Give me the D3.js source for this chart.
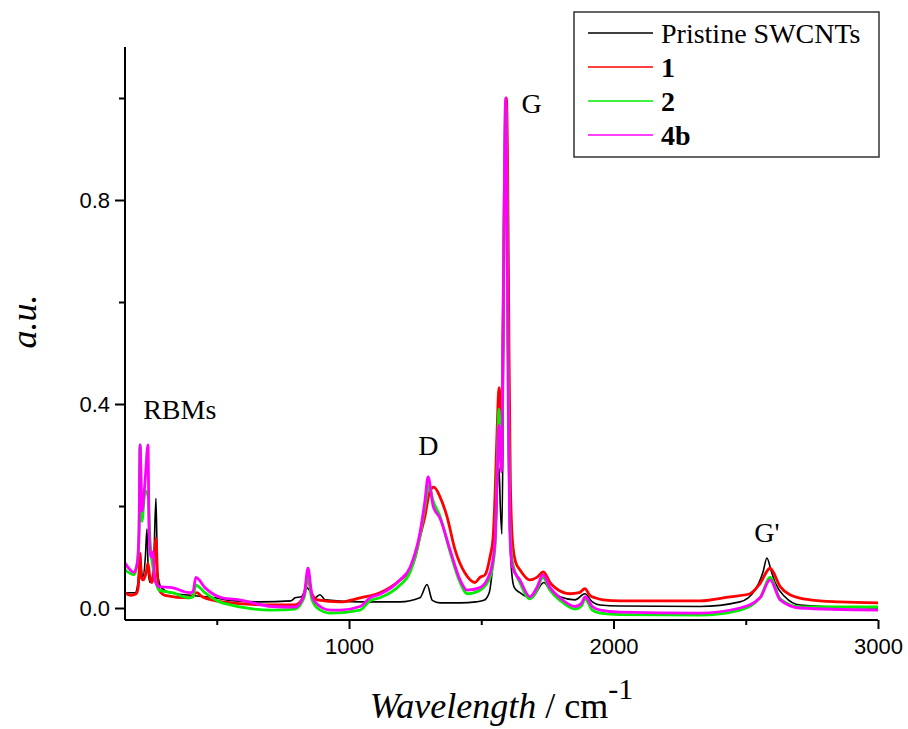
<!DOCTYPE html>
<html>
<head>
<meta charset="utf-8">
<script src="https://cdn.jsdelivr.net/npm/d3@7"></script>
<style>
  body { margin: 0; background: #fff; }
  svg { display: block; }
  .serif { font-family: "Liberation Serif", "Times New Roman", serif; }
  .tick text { font-family: "Liberation Sans", Arial, sans-serif; font-size: 22px; fill: #000; }
</style>
</head>
<body>
<svg id="chart" width="908" height="729"></svg>
<script>
// Raman spectra: [wavenumber (cm-1), normalised intensity]
const pristine = [[153,0.03],[191,0.03],[202,0.05],[210,0.09],[220,0.06],[230,0.1],[236,0.155],[241,0.07],[248,0.05],[260,0.07],[270,0.215],[276,0.07],[290,0.04],[323,0.03],[399,0.025],[493,0.02],[550,0.015],[663,0.012],[780,0.014],[796,0.02],[820,0.022],[840,0.04],[850,0.035],[870,0.02],[890,0.026],[910,0.016],[1042,0.012],[1193,0.012],[1268,0.02],[1295,0.046],[1315,0.015],[1344,0.01],[1420,0.01],[1480,0.012],[1510,0.015],[1530,0.03],[1545,0.09],[1555,0.15],[1562,0.25],[1567,0.276],[1572,0.2],[1578,0.145],[1583,0.4],[1587,0.75],[1592,1.0],[1597,0.75],[1602,0.35],[1608,0.15],[1615,0.07],[1625,0.04],[1646,0.03],[1690,0.02],[1737,0.05],[1760,0.035],[1798,0.022],[1854,0.016],[1892,0.028],[1920,0.012],[1949,0.006],[2025,0.004],[2327,0.003],[2478,0.012],[2535,0.035],[2565,0.07],[2580,0.098],[2595,0.075],[2611,0.05],[2648,0.022],[2705,0.006],[3000,0.0]];
const sample1 = [[153,0.03],[175,0.025],[195,0.028],[203,0.04],[210,0.107],[215,0.06],[222,0.055],[233,0.07],[240,0.088],[247,0.06],[255,0.05],[262,0.08],[270,0.137],[278,0.04],[304,0.025],[395,0.02],[425,0.03],[445,0.022],[520,0.012],[709,0.006],[796,0.006],[830,0.025],[845,0.06],[858,0.03],[880,0.016],[966,0.012],[1042,0.02],[1117,0.03],[1193,0.055],[1231,0.075],[1250,0.1],[1268,0.14],[1287,0.18],[1306,0.23],[1321,0.237],[1344,0.218],[1370,0.18],[1401,0.114],[1439,0.068],[1476,0.05],[1495,0.06],[1514,0.065],[1533,0.1],[1545,0.14],[1552,0.22],[1560,0.35],[1567,0.432],[1572,0.4],[1577,0.365],[1582,0.55],[1587,0.8],[1592,0.98],[1595,1.0],[1600,0.85],[1605,0.5],[1610,0.25],[1618,0.13],[1630,0.09],[1646,0.075],[1684,0.055],[1710,0.06],[1735,0.071],[1760,0.05],[1779,0.04],[1836,0.028],[1870,0.03],[1892,0.038],[1910,0.025],[1930,0.02],[1960,0.016],[2025,0.014],[2327,0.014],[2440,0.022],[2516,0.028],[2554,0.048],[2592,0.078],[2630,0.042],[2667,0.026],[2743,0.016],[2856,0.012],[3000,0.01]];
const sample2 = [[153,0.075],[187,0.065],[200,0.09],[206,0.15],[210,0.32],[217,0.17],[229,0.23],[240,0.22],[248,0.13],[263,0.068],[282,0.035],[331,0.03],[395,0.02],[410,0.022],[421,0.045],[455,0.03],[520,0.01],[709,-0.004],[796,-0.002],[830,0.02],[845,0.065],[858,0.02],[880,0.0],[928,-0.01],[1042,-0.004],[1079,0.014],[1117,0.02],[1193,0.045],[1231,0.07],[1268,0.14],[1287,0.2],[1302,0.24],[1318,0.21],[1344,0.18],[1382,0.11],[1420,0.05],[1446,0.028],[1495,0.035],[1533,0.06],[1552,0.12],[1560,0.27],[1567,0.39],[1572,0.33],[1577,0.3],[1582,0.5],[1587,0.8],[1592,0.99],[1597,0.85],[1602,0.45],[1608,0.17],[1618,0.09],[1646,0.05],[1684,0.018],[1710,0.035],[1733,0.06],[1760,0.035],[1798,0.015],[1854,-0.002],[1880,0.005],[1892,0.018],[1920,-0.004],[1949,-0.01],[2025,-0.013],[2327,-0.014],[2478,-0.004],[2554,0.02],[2592,0.06],[2630,0.018],[2705,0.002],[3000,0.002]];
const sample4b = [[153,0.088],[187,0.07],[200,0.09],[206,0.15],[210,0.32],[217,0.19],[229,0.25],[240,0.32],[244,0.15],[251,0.1],[259,0.11],[266,0.055],[282,0.042],[331,0.04],[395,0.03],[410,0.032],[421,0.06],[455,0.04],[520,0.02],[584,0.016],[709,0.003],[796,0.002],[830,0.025],[845,0.078],[858,0.03],[871,0.012],[928,-0.004],[966,-0.004],[1042,0.003],[1079,0.02],[1117,0.027],[1193,0.055],[1231,0.08],[1268,0.147],[1287,0.21],[1299,0.257],[1318,0.2],[1344,0.176],[1382,0.114],[1420,0.055],[1446,0.035],[1495,0.04],[1533,0.068],[1552,0.13],[1560,0.25],[1567,0.358],[1572,0.3],[1577,0.267],[1582,0.5],[1587,0.8],[1592,1.0],[1597,0.8],[1602,0.4],[1608,0.15],[1618,0.08],[1646,0.055],[1684,0.022],[1710,0.04],[1733,0.065],[1760,0.04],[1798,0.02],[1854,0.003],[1880,0.01],[1892,0.022],[1920,0.003],[1949,-0.004],[2025,-0.008],[2327,-0.01],[2478,0.0],[2554,0.02],[2592,0.055],[2630,0.016],[2705,0.0],[3000,-0.004]];

const seriesNames = ["Pristine SWCNTs", "1", "2", "4b"];
const seriesColors = ["#000000", "#ff0000", "#00ee00", "#ff00ff"];
const seriesData = [pristine, sample1, sample2, sample4b];

const xMajorTicks = [1000, 2000, 3000];
const xMinorTicks = [500, 1500, 2500];
const yMajorTicks = [0.0, 0.4, 0.8];
const yMinorTicks = [0.2, 0.6, 1.0];

// peak labels: [text, wavenumber, intensity]
const peakLabels = [["RBMs", 360, 0.37], ["D", 1300, 0.30], ["G", 1690, 0.97], ["G'", 2580, 0.13]];

const svg = d3.select("#chart");
const plot = {left: 125, right: 878, top: 47, bottom: 620};

const x = d3.scaleLinear().domain([153, 3000]).range([plot.left, plot.right]);
const y = d3.scaleLinear().domain([-0.0235, 1.1]).range([plot.bottom, plot.top]);

// spectra, drawn in legend order so 4b ends on top
const line = d3.line().x(d => x(d[0])).y(d => y(d[1])).curve(d3.curveMonotoneX);
svg.append("g").selectAll("path")
    .data(seriesData)
    .join("path")
    .attr("d", line)
    .attr("fill", "none")
    .attr("stroke", (d, i) => seriesColors[i])
    .attr("stroke-width", (d, i) => i === 0 ? 1.6 : 2.8)
    .attr("stroke-linejoin", "round");

// axes
const xAxis = svg.append("g").attr("transform", `translate(0,${plot.bottom})`);
xAxis.call(d3.axisBottom(x).tickValues(xMajorTicks).tickFormat(d3.format("d")).tickSize(9).tickPadding(6));
xAxis.append("g").call(d3.axisBottom(x).tickValues(xMinorTicks).tickFormat("").tickSize(5))
    .select(".domain").remove();
xAxis.select(".domain").attr("d", `M${plot.left},0H${plot.right}`);

const yAxis = svg.append("g").attr("transform", `translate(${plot.left},0)`);
yAxis.call(d3.axisLeft(y).tickValues(yMajorTicks).tickFormat(d3.format(".1f")).tickSize(10).tickPadding(5));
yAxis.append("g").call(d3.axisLeft(y).tickValues(yMinorTicks).tickFormat("").tickSize(6))
    .select(".domain").remove();
yAxis.select(".domain").attr("d", `M0,${plot.top}V${plot.bottom}`);

svg.selectAll(".domain").attr("stroke", "#000").attr("stroke-width", 2);
svg.selectAll(".tick line").attr("stroke", "#000").attr("stroke-width", 2);
xAxis.selectAll(".tick text").attr("dy", "0.85em");

// axis titles
const xTitle = svg.append("text").attr("class", "serif")
    .attr("x", (plot.left + plot.right) / 2).attr("y", 718)
    .attr("text-anchor", "middle").attr("font-size", 36);
xTitle.append("tspan").attr("font-style", "italic").text("Wavelength");
xTitle.append("tspan").text(" / cm");
xTitle.append("tspan").attr("font-size", 30).attr("dy", -19).text("-1");

svg.append("text").attr("class", "serif")
    .attr("transform", `translate(36,${(plot.top + plot.bottom) / 2 - 12}) rotate(-90)`)
    .attr("text-anchor", "middle").attr("font-style", "italic").attr("font-size", 36)
    .text("a.u.");

// peak annotations
svg.append("g").selectAll("text")
    .data(peakLabels)
    .join("text")
    .attr("class", "serif")
    .attr("x", d => x(d[1]))
    .attr("y", d => y(d[2]))
    .attr("text-anchor", "middle")
    .attr("font-size", 28)
    .text(d => d[0]);

// legend
const legend = svg.append("g").attr("transform", "translate(574,12)");
legend.append("rect")
    .attr("width", 305).attr("height", 145)
    .attr("fill", "#fff").attr("stroke", "#333").attr("stroke-width", 1.5);
const rows = legend.selectAll("g.row")
    .data(seriesNames)
    .join("g")
    .attr("class", "row")
    .attr("transform", (d, i) => `translate(0,${21 + i * 34})`);
rows.append("line")
    .attr("x1", 14).attr("x2", 79)
    .attr("stroke", (d, i) => seriesColors[i]).attr("stroke-width", 1.6);
rows.append("text").attr("class", "serif")
    .attr("x", 87).attr("y", 10)
    .attr("font-size", 28)
    .attr("font-weight", (d, i) => i === 0 ? "normal" : "bold")
    .text(d => d);
</script>
</body>
</html>
